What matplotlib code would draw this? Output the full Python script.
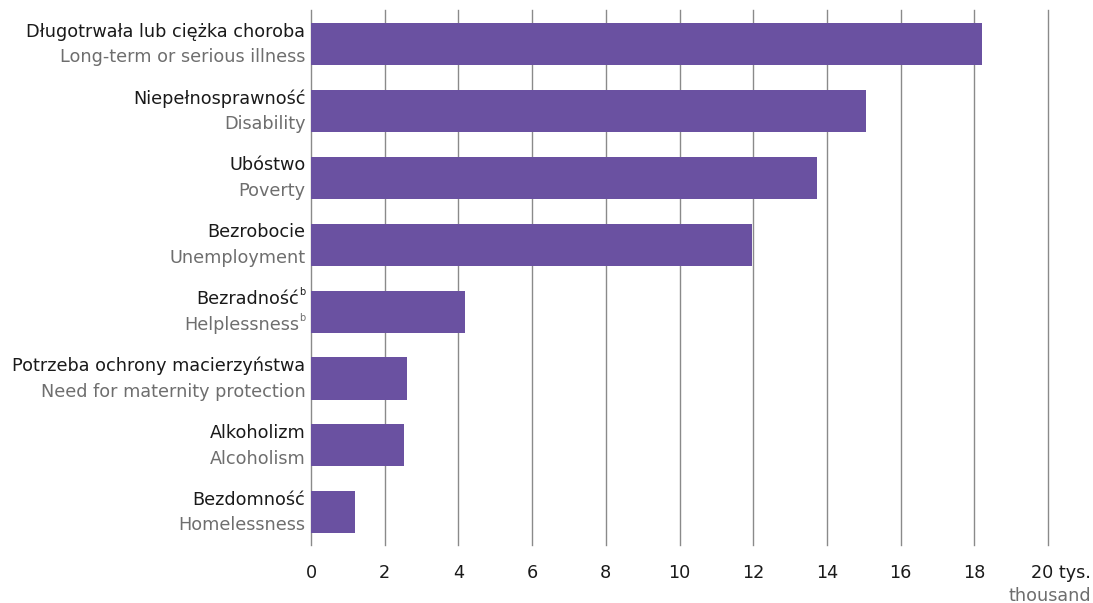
import matplotlib.pyplot as plt

plt.rcParams['font.family'] = ['DejaVu Sans']

labels_pl = ['Długotrwała lub ciężka choroba', 'Niepełnosprawność', 'Ubóstwo', 'Bezrobocie',
             'Bezradność', 'Potrzeba ochrony macierzyństwa', 'Alkoholizm', 'Bezdomność']
labels_en = ['Long-term or serious illness', 'Disability', 'Poverty', 'Unemployment',
             'Helplessness', 'Need for maternity protection', 'Alcoholism', 'Homelessness']
footnote = ['', '', '', '', 'b', '', '', '']
values = [18.2, 15.05, 13.73, 11.97, 4.18, 2.6, 2.52, 1.19]
xticks = [0, 2, 4, 6, 8, 10, 12, 14, 16, 18, 20]

bar_color = '#6a51a1'
grid_color = '#8a8a8a'
gray_text = '#6e6e6e'
fs = 12.7

fig = plt.figure(figsize=(10.93, 6.03), dpi=100)
ax = fig.add_axes([311 / 1093, 1 - 545 / 603, (1048 - 311) / 1093, 535 / 603])

ypos = list(range(len(values)))
ax.barh(ypos, values, height=0.63, color=bar_color, zorder=3)
for t in xticks:
    ax.axvline(t, color=grid_color, lw=1.0, zorder=1, clip_on=False)

ax.set_xlim(0, 20)
ax.set_ylim(7.49, -0.51)
for s in ax.spines.values():
    s.set_visible(False)
ax.set_yticks([])
ax.set_xticks(xticks)
# last tick carries the unit, drawn separately below
ax.set_xticklabels([str(t) for t in xticks[:-1]] + [''], fontsize=fs)
ax.tick_params(axis='x', length=0, pad=14, colors='#1a1a1a')

# category labels, two lines each
for y, pl, en, fn in zip(ypos, labels_pl, labels_en, footnote):
    shift = -4.5 if fn else 0
    ax.annotate(pl, xy=(0, y), xytext=(-4 + shift, 9), textcoords='offset points',
                ha='right', va='center', fontsize=fs, color='#1a1a1a')
    ax.annotate(en, xy=(0, y), xytext=(-4 + shift, -9.5), textcoords='offset points',
                ha='right', va='center', fontsize=fs, color=gray_text)
    if fn:
        ax.annotate(fn, xy=(0, y), xytext=(-4, 14), textcoords='offset points',
                    ha='right', va='center', fontsize=7, color='#1a1a1a')
        ax.annotate(fn, xy=(0, y), xytext=(-4, -4.5), textcoords='offset points',
                    ha='right', va='center', fontsize=7, color=gray_text)

# unit labels
ax.annotate(f'{xticks[-1]} tys.', xy=(1091 / 1093, 0), xycoords=('figure fraction', 'axes fraction'),
            xytext=(0, -14), textcoords='offset points', ha='right', va='top',
            fontsize=fs, color='#1a1a1a')
fig.text(1091 / 1093, 1 - 596 / 603, 'thousand', ha='right', va='center',
         fontsize=fs, color=gray_text)

fig.savefig('out.png', dpi=100)
